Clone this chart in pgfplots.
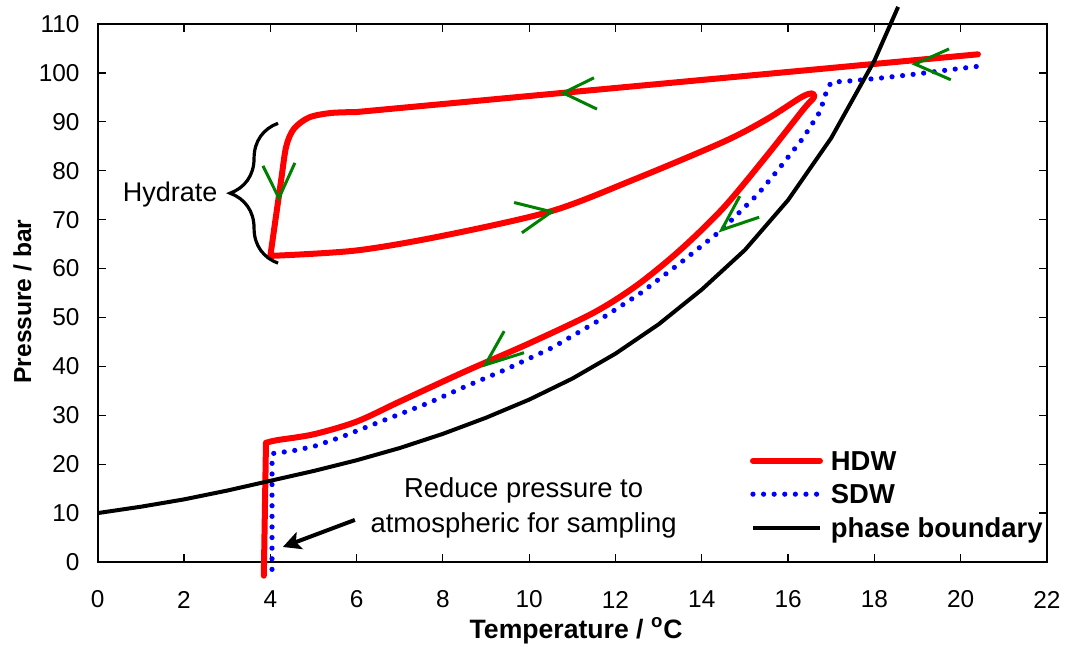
\documentclass[border=0pt]{standalone}
\usepackage{pgfplots}
\pgfplotsset{compat=1.18}
\usepackage{fontspec}
\setmainfont{Liberation Sans}
\usetikzlibrary{decorations.pathreplacing, arrows.meta}
\definecolor{hdw}{RGB}{255,0,0}
\definecolor{sdw}{RGB}{0,0,255}
\definecolor{arr}{RGB}{0,128,0}
\begin{document}
\begin{tikzpicture}
\begin{axis}[
  scale only axis, width=474.65pt, height=269pt,
  xmin=0, xmax=22, ymin=0, ymax=110,
  xtick={0,2,...,22}, ytick={0,10,...,110},
  tick align=inside, major tick length=4pt,
  tick style={line width=0.6pt, black},
  axis line style={line width=1pt},
  /pgf/number format/assume math mode=true,
  ticklabel style={font=\fontsize{12.2}{14}\selectfont},
  xticklabel style={anchor=center, inner sep=0pt, yshift=-18.8pt},
  yticklabel style={anchor=east, inner sep=0pt, xshift=-8.9pt},
  xlabel={Temperature / \textsuperscript{o}C},
  ylabel={Pressure / bar},
  xlabel style={at={(axis description cs:0.504,-0.128)}, anchor=center, font=\bfseries\fontsize{13.3}{15}\selectfont},
  ylabel style={at={(axis description cs:-0.0792,0.484)}, anchor=center, font=\bfseries\fontsize{12.3}{14}\selectfont},
  clip=false,
  legend cell align=left,
  legend style={at={(axis description cs:0.6871,0.2134)}, anchor=north west,
    draw=none, fill=none, inner sep=0pt, outer sep=0pt, row sep=3.25pt,
    font=\bfseries\fontsize{13.7}{16}\selectfont,
    nodes={inner sep=0pt, text height=11.5pt, text depth=2pt},
    /tikz/every odd column/.append style={column sep=4pt}},
  legend image code/.code={\draw[#1] (0pt,0pt) -- (33.5pt,0pt);},
]
% HDW
\addplot[hdw, line width=3pt, line cap=round, line join=round] coordinates {(20.4,103.8) (6.0,92.0)};
\addlegendentry{HDW}
\addplot[hdw, line width=3pt, line cap=round, line join=round, smooth, forget plot] coordinates {
(6.0,92.0) (5.4,91.8) (4.9,90.9) (4.55,88.6) (4.37,85.0) (4.25,78.0) (4.0,62.5)};
\addplot[hdw, line width=3pt, line cap=round, line join=round, smooth, forget plot] coordinates {
(4.05,62.6) (6.0,63.7) (8.0,66.7) (10.5,71.7) (12.4,78.1) (14.5,85.9) (15.5,90.5) (16.3,95.0)
(16.55,95.8) (16.6,95.0) (16.35,92.5) (15.5,83.0) (14.5,72.4) (13.5,63.8) (12.5,56.6) (11.5,51.0)
(10.0,44.7) (8.5,38.9) (7.0,32.8) (6.0,28.7) (5.0,26.1) (4.15,24.9) (3.92,24.4)};
\addplot[hdw, line width=3pt, line cap=round, line join=round, forget plot] coordinates {(3.9,24.4) (3.85,-2.8)};
% SDW
\addplot[sdw, line width=2.6pt, line cap=round, dash pattern=on 0pt off 5.3pt] coordinates {
(20.36,101.3) (19.7,100.6) (19.0,99.8) (18.2,99.0) (17.5,98.4) (17.0,98.1) (16.9,96.5) (16.74,92.1)
(16.35,86.7) (15.77,80.2) (15.31,75.3) (14.46,67.9) (13.51,61.2) (12.57,54.9) (11.56,49.1)
(10.53,43.8) (9.44,39.3) (8.5,35.8) (7.69,32.6) (7.02,30.3) (6.35,28.0) (5.66,25.6) (5.0,23.6)
(4.5,22.7) (4.07,22.2) (4.04,21.5) (4.04,-1.8)};
\addlegendentry{SDW}
% phase boundary
\addplot[black, line width=2pt, line join=round] coordinates {
(0,10) (1,11.3) (2,12.8) (3,14.6) (4,16.6) (5,18.6) (6,20.8) (7,23.3) (8,26.2) (9,29.5) (10,33.2)
(11,37.5) (12,42.6) (13,48.6) (14,55.7) (15,63.8) (16,74.0) (17,86.7) (18,102.5) (18.55,113.5)};
\addlegendentry{phase boundary}
% direction arrows
\addplot[arr, line width=1.5pt, forget plot] coordinates {(11.5,99.0) (10.79,95.9) (11.57,92.6)};
\addplot[arr, line width=1.5pt, forget plot] coordinates {(19.73,104.9) (18.94,101.8) (19.77,98.6)};
\addplot[arr, line width=1.5pt, forget plot] coordinates {(3.83,81.0) (4.2,74.4) (4.57,81.6)};
\addplot[arr, line width=1.5pt, forget plot] coordinates {(9.65,73.5) (10.52,71.6) (9.83,67.3)};
\addplot[arr, line width=1.5pt, forget plot] coordinates {(14.88,74.8) (14.46,67.9) (15.33,70.5)};
\addplot[arr, line width=1.5pt, forget plot] coordinates {(9.42,47.2) (8.98,40.3) (9.88,42.8)};
% annotations
\draw[line width=1.6pt, decorate, decoration={brace, amplitude=24pt}] (axis cs:4.18,61.1) -- (axis cs:4.18,89.7);
\node[font=\fontsize{13.5}{16}\selectfont, anchor=center] at (axis cs:1.68,75.05) {Hydrate};
\node[font=\fontsize{13.7}{17.5}\selectfont, align=center, anchor=center] at (axis cs:9.87,11.15) {Reduce pressure to\\atmospheric for sampling};
\draw[line width=2pt, -{Stealth[length=9pt, width=9pt, inset=2pt]}] (axis cs:5.96,8.6) -- (axis cs:4.29,3.07);
\end{axis}
\pgfresetboundingbox
\path[use as bounding box] (-48.85pt,-42.5pt) rectangle (487.15pt,281pt);
\end{tikzpicture}
\end{document}
